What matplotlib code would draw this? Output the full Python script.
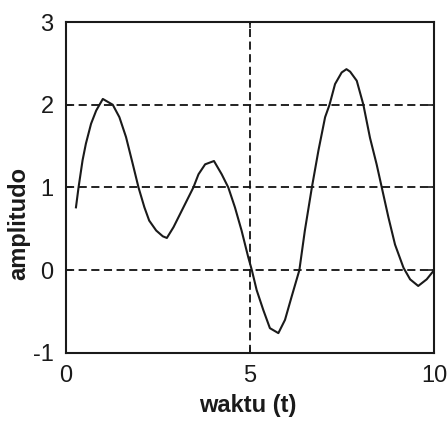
import matplotlib
matplotlib.use("Agg")
import matplotlib.pyplot as plt
import numpy as np

# sampled signal: time (t) and amplitude
waktu = [0.27, 0.34, 0.45, 0.54, 0.68, 0.82, 1.00, 1.27, 1.45, 1.63,
         1.81, 1.97, 2.13, 2.26, 2.45, 2.63, 2.74, 2.92, 3.10, 3.28,
         3.46, 3.60, 3.78, 4.02, 4.23, 4.41, 4.59, 4.77, 4.95, 5.05,
         5.18, 5.36, 5.54, 5.77, 5.95, 6.13, 6.34, 6.49, 6.68, 6.86,
         7.04, 7.16, 7.31, 7.49, 7.62, 7.72, 7.90, 8.08, 8.26, 8.44, 8.58,
         8.76, 8.94, 9.17, 9.35, 9.57, 9.80, 10.00]
amplitudo = [0.76, 1.00, 1.33, 1.53, 1.77, 1.93, 2.07, 2.00, 1.85, 1.61,
             1.29, 1.00, 0.76, 0.60, 0.48, 0.41, 0.39, 0.52, 0.68, 0.84,
             1.00, 1.16, 1.28, 1.32, 1.16, 1.00, 0.76, 0.48, 0.16, 0.00,
             -0.24, -0.48, -0.70, -0.76, -0.60, -0.32, 0.00, 0.48, 1.00, 1.45,
             1.85, 2.00, 2.25, 2.39, 2.43, 2.40, 2.29, 2.00, 1.60, 1.28, 1.00,
             0.64, 0.31, 0.03, -0.11, -0.19, -0.11, 0.00]

xticks = [0, 5, 10]
yticks = [-1, 0, 1, 2, 3]

plt.rcParams['font.family'] = ['Liberation Sans', 'DejaVu Sans']
plt.rcParams['axes.unicode_minus'] = False

fig = plt.figure(figsize=(4.47, 4.24), dpi=100)
ax = fig.add_axes([0.1477, 0.1675, 0.8233, 0.7806])

ax.plot(waktu, amplitudo, color='#1a1a1a', lw=1.5, zorder=3)

ax.set_xlim(0, 10)
ax.set_ylim(-1, 3)
ax.set_xticks(xticks)
ax.set_yticks(yticks)
ax.grid(True, color='#111111', linestyle=(0, (4.5, 2.5)), lw=1.3)

for s in ax.spines.values():
    s.set_linewidth(1.5)
    s.set_color('#1a1a1a')

ax.tick_params(direction='in', length=4, width=1.2, labelsize=17,
               top=True, right=True, pad=9, colors='#1a1a1a')

ax.set_xlabel('waktu (t)', fontsize=17, fontweight='bold', color='#1a1a1a')
ax.set_ylabel('amplitudo', fontsize=17, fontweight='bold', color='#1a1a1a')
ax.xaxis.set_label_coords(0.493, -0.125)
ax.yaxis.set_label_coords(-0.096, 0.39)

fig.savefig('out.png', dpi=100)
